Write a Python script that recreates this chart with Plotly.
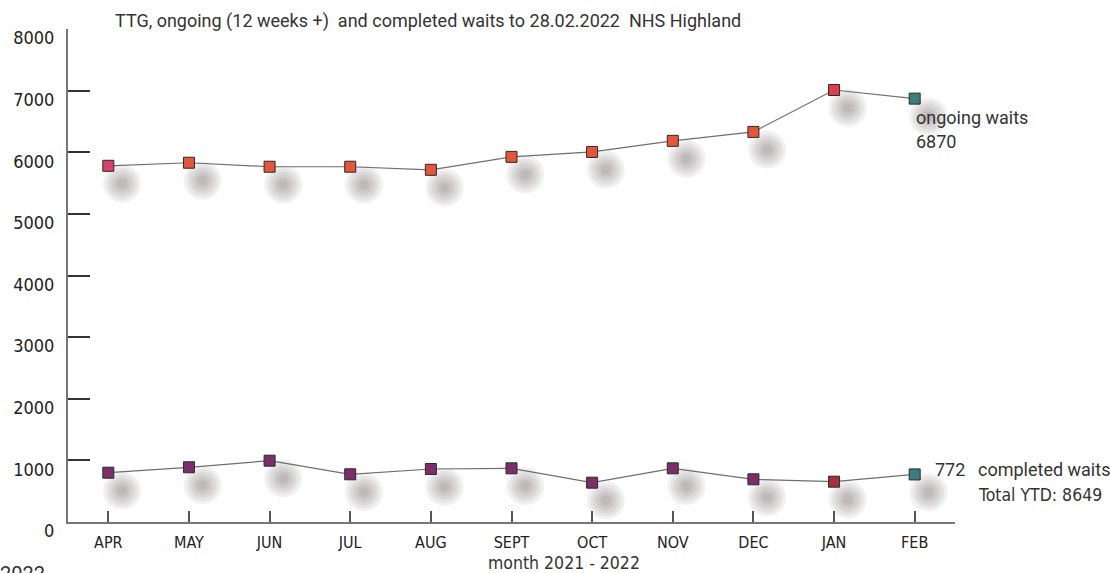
import plotly.graph_objects as go

months = ["APR", "MAY", "JUN", "JUL", "AUG", "SEPT", "OCT", "NOV", "DEC", "JAN", "FEB"]
ongoing = [5780, 5830, 5765, 5765, 5715, 5925, 6005, 6185, 6330, 7010, 6870]
completed = [800, 888, 995, 774, 860, 871, 638, 871, 693, 654, 772]
ongoing_colors = ["#d8436e", "#e2563b", "#e2563b", "#e2563b", "#e2563b", "#e2563b",
                  "#e2563b", "#e2563b", "#e2563b", "#e23b4c", "#3e7d7c"]
completed_colors = ["#7c2e6b"] * 9 + ["#a3303e", "#3e7d7c"]
y_ticks = [0, 1000, 2000, 3000, 4000, 5000, 6000, 7000, 8000]

W, H = 1110, 573
L, R, T, B = 68, 155, 29, 51
x = list(range(len(months)))

fig = go.Figure()

# soft drop shadows below/right of each marker: stacked translucent discs
sx = [v + 0.17 for v in x]
for series in (ongoing, completed):
    for size in (38, 32, 26, 20, 14, 9):
        fig.add_trace(go.Scatter(
            x=sx, y=[v - 290 for v in series], mode="markers", hoverinfo="skip",
            marker=dict(size=size, symbol="circle", color="rgba(100,88,92,0.085)",
                        line=dict(width=0)),
            showlegend=False))

for series, cols in ((ongoing, ongoing_colors), (completed, completed_colors)):
    fig.add_trace(go.Scatter(
        x=x, y=series, mode="lines+markers",
        line=dict(color="#6e6e6e", width=1.2),
        marker=dict(symbol="square", size=11, color=cols,
                    line=dict(color="#2a2a2a", width=1)),
        showlegend=False))

font_main = "Roboto, 'Open Sans', sans-serif"
font_narrow = "'Liberation Sans Narrow', 'DejaVu Sans Condensed', Roboto, sans-serif"

fig.update_layout(
    width=W, height=H,
    margin=dict(l=L, r=R, t=T, b=B, pad=0),
    paper_bgcolor="white", plot_bgcolor="white",
    xaxis=dict(
        range=[-0.5, 10.5], tickmode="array", tickvals=x, ticktext=months,
        tickson="boundaries", ticks="inside", ticklen=11, tickwidth=1.6,
        tickcolor="#555", showline=True, linecolor="#777", linewidth=2,
        showgrid=False, zeroline=False, ticklabelstandoff=5,
        tickfont=dict(family=font_narrow, size=16, color="#222"),
    ),
    yaxis=dict(
        range=[0, 8000], tickmode="array", tickvals=y_ticks,
        ticks="inside", ticklen=22, tickwidth=1.6, tickcolor="#333",
        showline=True, linecolor="#777", linewidth=2,
        showgrid=False, zeroline=False,
        ticklabelstandoff=8, ticklabelshift=9,
        tickfont=dict(family=font_narrow, size=18, color="#222"),
    ),
)

def px_x(p):
    return (p - L) / (W - L - R)

def px_y(p):
    return (H - B - p) / (H - T - B)

notes = [
    (113, 21, "TTG, ongoing (12 weeks +)  and completed waits to 28.02.2022  NHS Highland", font_main, 18, "left"),
    (914, 118, "ongoing waits", font_main, 18, "left"),
    (914, 141, "6870", font_main, 18, "left"),
    (933, 469, "772", font_main, 18, "left"),
    (976, 469, "completed waits", font_main, 18, "left"),
    (976, 495, "Total YTD: 8649", font_narrow, 17.5, "left"),
    (564, 563, "month 2021 - 2022", font_narrow, 17.5, "center"),
]
for px, py, txt, fam, sz, anc in notes:
    fig.add_annotation(x=px_x(px), y=px_y(py), xref="paper", yref="paper",
                       text=txt, showarrow=False, xanchor=anc, yanchor="middle",
                       font=dict(family=fam, size=sz, color="#333"))

fig.add_annotation(x=px_x(-2), y=px_y(560), xref="paper", yref="paper",
                   text="2022", showarrow=False, xanchor="left", yanchor="top",
                   font=dict(family=font_main, size=20, color="#333"))

fig.write_html("out.html")
